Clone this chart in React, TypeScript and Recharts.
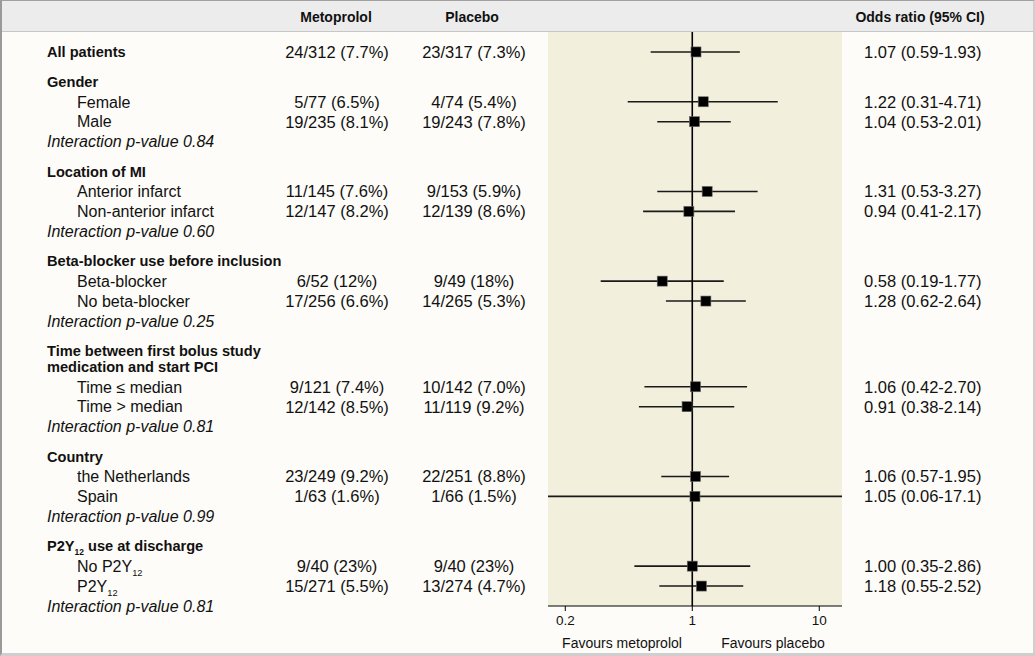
import React from 'react';
import { ScatterChart, Scatter, XAxis, YAxis, CartesianGrid } from 'recharts';

// table rows, top to bottom
const ROW_LABELS = [
  'All patients',
  'Gender', 'Female', 'Male', 'Interaction p-value 0.84',
  'Location of MI', 'Anterior infarct', 'Non-anterior infarct', 'Interaction p-value 0.60',
  'Beta-blocker use before inclusion', 'Beta-blocker', 'No beta-blocker', 'Interaction p-value 0.25',
  'Time between first bolus study', 'medication and start PCI', 'Time ≤ median', 'Time > median', 'Interaction p-value 0.81',
  'Country', 'the Netherlands', 'Spain', 'Interaction p-value 0.99',
  'P2Y12 use at discharge', 'No P2Y12', 'P2Y12', 'Interaction p-value 0.81',
];
const ROW_KINDS = [
  'group',
  'group', 'sub', 'sub', 'note',
  'group', 'sub', 'sub', 'note',
  'group', 'sub', 'sub', 'note',
  'group', 'cont', 'sub', 'sub', 'note',
  'group', 'sub', 'sub', 'note',
  'group', 'sub', 'sub', 'note',
];
const METOPROLOL = [
  '24/312 (7.7%)',
  '', '5/77 (6.5%)', '19/235 (8.1%)', '',
  '', '11/145 (7.6%)', '12/147 (8.2%)', '',
  '', '6/52 (12%)', '17/256 (6.6%)', '',
  '', '', '9/121 (7.4%)', '12/142 (8.5%)', '',
  '', '23/249 (9.2%)', '1/63 (1.6%)', '',
  '', '9/40 (23%)', '15/271 (5.5%)', '',
];
const PLACEBO = [
  '23/317 (7.3%)',
  '', '4/74 (5.4%)', '19/243 (7.8%)', '',
  '', '9/153 (5.9%)', '12/139 (8.6%)', '',
  '', '9/49 (18%)', '14/265 (5.3%)', '',
  '', '', '10/142 (7.0%)', '11/119 (9.2%)', '',
  '', '22/251 (8.8%)', '1/66 (1.5%)', '',
  '', '9/40 (23%)', '13/274 (4.7%)', '',
];
const ODDS = [
  1.07,
  null, 1.22, 1.04, null,
  null, 1.31, 0.94, null,
  null, 0.58, 1.28, null,
  null, null, 1.06, 0.91, null,
  null, 1.06, 1.05, null,
  null, 1.0, 1.18, null,
];
// whiskers as drawn in the figure (the "All patients" bar is drawn wider than its label)
const CI_LOW = [
  0.47,
  null, 0.31, 0.53, null,
  null, 0.53, 0.41, null,
  null, 0.19, 0.62, null,
  null, null, 0.42, 0.38, null,
  null, 0.57, 0.06, null,
  null, 0.35, 0.55, null,
];
const CI_HIGH = [
  2.37,
  null, 4.71, 2.01, null,
  null, 3.27, 2.17, null,
  null, 1.77, 2.64, null,
  null, null, 2.7, 2.14, null,
  null, 1.95, 17.1, null,
  null, 2.86, 2.52, null,
];
const OR_LABELS = [
  '1.07 (0.59-1.93)',
  '', '1.22 (0.31-4.71)', '1.04 (0.53-2.01)', '',
  '', '1.31 (0.53-3.27)', '0.94 (0.41-2.17)', '',
  '', '0.58 (0.19-1.77)', '1.28 (0.62-2.64)', '',
  '', '', '1.06 (0.42-2.70)', '0.91 (0.38-2.14)', '',
  '', '1.06 (0.57-1.95)', '1.05 (0.06-17.1)', '',
  '', '1.00 (0.35-2.86)', '1.18 (0.55-2.52)', '',
];

// the original figure prints "0.2" at the 0.1 position
const TICK_VALUES = [0.1, 1, 10];
const TICK_LABELS = ['0.2', '1', '10'];

// row positions: new group = 1.5 rows down, second header line = 0.8, else 1
const rowPos: number[] = [];
ROW_KINDS.forEach((k, i) => {
  if (i === 0) rowPos.push(0);
  else rowPos.push(rowPos[i - 1] + (k === 'group' ? 1.5 : k === 'cont' ? 0.8 : 1));
});
const Y_MIN = -1;
const Y_MAX = rowPos[rowPos.length - 1];

const points = ODDS.map((o, i) => ({ x: o, y: rowPos[i] })).filter((p) => p.x != null);
const ciLines = ODDS.map((o, i) =>
  o == null ? null : [{ x: CI_LOW[i], y: rowPos[i] }, { x: CI_HIGH[i], y: rowPos[i] }]
).filter(Boolean) as { x: number; y: number }[][];
const nullLine = [{ x: 1, y: Y_MIN }, { x: 1, y: Y_MAX }];

const FONT = '"Liberation Sans", Arial, sans-serif';

const withSub = (text: string, fs: number) => {
  const parts = text.split('P2Y12');
  const out: React.ReactNode[] = [];
  parts.forEach((p, i) => {
    if (i > 0) {
      out.push(<tspan key={'a' + i}>P2Y</tspan>);
      out.push(<tspan key={'b' + i} fontSize={fs * 0.58} dy={4}>12</tspan>);
      out.push(<tspan key={'c' + i} dy={-4}>{p}</tspan>);
    } else if (p) {
      out.push(<tspan key={'p' + i}>{p}</tspan>);
    }
  });
  return out;
};

const RowTick = (props: any) => {
  const { y, payload } = props;
  const i = rowPos.findIndex((r) => Math.abs(r - payload.value) < 1e-6);
  if (i < 0) return <g />;
  const kind = ROW_KINDS[i];
  const bold = kind === 'group' || kind === 'cont';
  const fs = bold ? 14.6 : 16;
  const lx = kind === 'sub' ? 77 : 47;
  return (
    <g fill="#111" fontFamily={FONT}>
      <text
        x={lx}
        y={y + fs * 0.36}
        fontSize={fs}
        fontWeight={bold ? 700 : 400}
        fontStyle={kind === 'note' ? 'italic' : 'normal'}
      >
        {withSub(ROW_LABELS[i], fs)}
      </text>
      {METOPROLOL[i] && (
        <text x={337} y={y + 6} fontSize={16.5} textAnchor="middle">{METOPROLOL[i]}</text>
      )}
      {PLACEBO[i] && (
        <text x={474} y={y + 6} fontSize={16.5} textAnchor="middle">{PLACEBO[i]}</text>
      )}
      {OR_LABELS[i] && (
        <text x={864} y={y + 6} fontSize={16.5}>{OR_LABELS[i]}</text>
      )}
    </g>
  );
};

const Square = (props: any) => {
  const { cx, cy } = props;
  return <rect x={cx - 5} y={cy - 5} width={10} height={10} fill="#000" stroke="#666" strokeWidth={0.6} />;
};

const Nothing = () => <g />;

const headStyle: React.CSSProperties = {
  position: 'absolute',
  top: 8,
  lineHeight: '18px',
  fontSize: 14,
  fontWeight: 700,
  color: '#111',
  transform: 'translateX(-50%)',
  whiteSpace: 'nowrap',
};
const footStyle: React.CSSProperties = {
  position: 'absolute',
  top: 634,
  lineHeight: '18px',
  fontSize: 14,
  color: '#111',
  transform: 'translateX(-50%)',
  whiteSpace: 'nowrap',
};

export default function App() {
  return (
    <div
      style={{
        position: 'absolute',
        left: 0,
        top: 0,
        width: 1035,
        height: 656,
        background: '#fdfcf8',
        fontFamily: FONT,
        overflow: 'hidden',
      }}
    >
      <div
        style={{
          position: 'absolute',
          left: 0,
          top: 0,
          width: 1035,
          height: 31,
          background: '#ececec',
          borderBottom: '1px solid #c6c6c6',
        }}
      />
      <div style={{ ...headStyle, left: 336 }}>Metoprolol</div>
      <div style={{ ...headStyle, left: 472 }}>Placebo</div>
      <div style={{ ...headStyle, left: 920 }}>Odds ratio (95% CI)</div>

      <div style={{ position: 'absolute', left: 0, top: 0 }}>
        <ScatterChart width={1035} height={656} margin={{ top: 32, right: 193, bottom: 20, left: 0 }}>
          <CartesianGrid fill="#f2efdc" horizontal={false} vertical={false} />
          <XAxis
            dataKey="x"
            type="number"
            scale="log"
            domain={[0.0731, 15.1]}
            allowDataOverflow
            ticks={TICK_VALUES}
            interval={0}
            tickFormatter={(v: number) => TICK_LABELS[TICK_VALUES.indexOf(v)]}
            height={30}
            tickSize={5}
            tickMargin={4}
            stroke="#000"
            tick={{ fill: '#111', fontSize: 13.5, fontFamily: FONT }}
          />
          <YAxis
            dataKey="y"
            type="number"
            domain={[Y_MIN, Y_MAX]}
            reversed
            allowDataOverflow
            ticks={rowPos}
            interval={0}
            width={548}
            axisLine={false}
            tickLine={false}
            tick={(p: any) => <RowTick {...p} />}
          />
          {ciLines.map((seg, i) => (
            <Scatter
              key={'ci' + i}
              data={seg}
              line={{ stroke: '#1a1a1a', strokeWidth: 1.6 }}
              shape={Nothing}
              isAnimationActive={false}
            />
          ))}
          <Scatter
            data={nullLine}
            line={{ stroke: '#000', strokeWidth: 1.6 }}
            shape={Nothing}
            isAnimationActive={false}
          />
          <Scatter data={points} shape={Square} isAnimationActive={false} />
        </ScatterChart>
      </div>

      <div style={{ ...footStyle, left: 622 }}>Favours metoprolol</div>
      <div style={{ ...footStyle, left: 773 }}>Favours placebo</div>

      <div
        style={{
          position: 'absolute',
          left: 0,
          top: 0,
          width: 1035,
          height: 656,
          boxSizing: 'border-box',
          borderLeft: '2px solid #9a9a9a',
          borderTop: '1px solid #a0a0a0',
          borderRight: '2px solid #cfcfcf',
          borderBottom: '3px solid #cfcfcf',
          pointerEvents: 'none',
        }}
      />
    </div>
  );
}
